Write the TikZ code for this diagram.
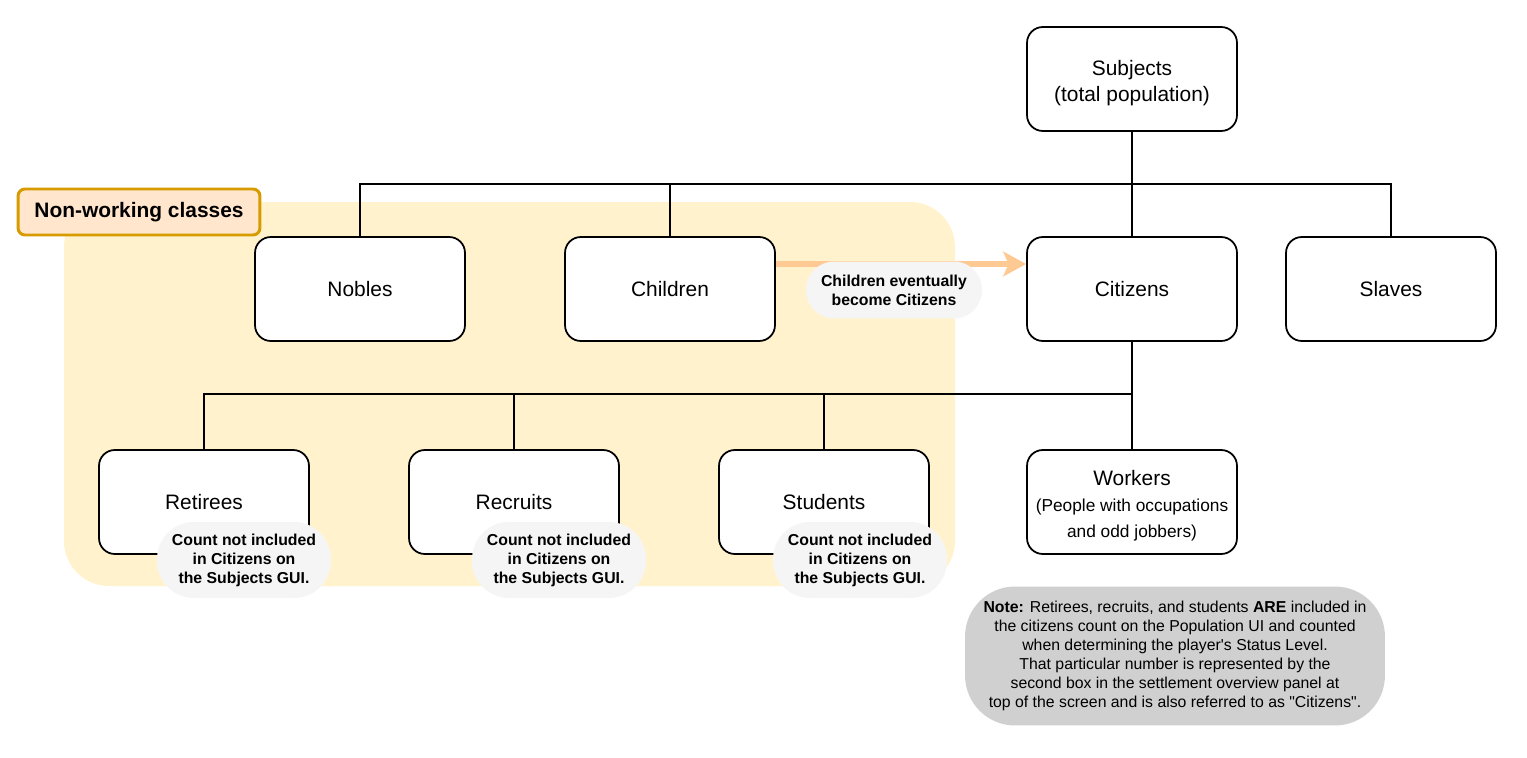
\documentclass[tikz,border=0pt]{standalone}
\usepackage{fontspec}
\setmainfont{Liberation Sans}[Ligatures=TeXOff]
\usetikzlibrary{arrows.meta}

\definecolor{groupfill}{HTML}{FFF2CC}
\definecolor{tagfill}{HTML}{FFE6CC}
\definecolor{tagdraw}{HTML}{D79B00}
\definecolor{becomearrow}{HTML}{FFC994}
\definecolor{bubblefill}{HTML}{F5F5F5}
\definecolor{notefill}{HTML}{D0D0D0}

\newcommand{\jobsize}{\fontsize{9.85}{14.7}\selectfont}

\begin{document}
\begin{tikzpicture}[x=0.02cm,y=-0.02cm,
        box/.style={draw,fill=white,line width=1pt,rounded corners=9pt,
        minimum width=4.2cm,minimum height=2.08cm,align=center,
        font=\fontsize{11.9}{14.7}\selectfont},
        bubble/.style={fill=bubblefill,rounded corners=0.74cm,minimum width=3.48cm,
        minimum height=1.52cm,align=center,inner sep=0pt,
        font=\bfseries\fontsize{9}{10.8}\selectfont},
        link/.style={line width=1pt}]
    \useasboundingbox (0,0) rectangle (1527,757);

    % non-working group
    \fill[groupfill,rounded corners=0.9cm] (64,202) rectangle (955,586);
    \node (tag) [draw=tagdraw,fill=tagfill,line width=1.7pt,rounded corners=4pt,
        minimum width=4.84cm,minimum height=0.92cm,
        font=\bfseries\fontsize{11.9}{14}\selectfont] at (139,212) {Non-working classes};

    \node (subj) [box] at (1132,79) {\rule{0pt}{13pt}Subjects\\(total population)};
    \node (nob) [box] at (360,289) {Nobles};
    \node (chi) [box] at (670,289) {Children};
    \node (cit) [box] at (1132,289) {Citizens};
    \node (sla) [box] at (1391,289) {Slaves};
    \node (ret) [box] at (204,502) {Retirees};
    \node (rec) [box] at (514,502) {Recruits};
    \node (stu) [box] at (824,502) {Students};
    \node (wor) [box] at (1132,502) {\rule{0pt}{13pt}Workers\\
        \jobsize (People with occupations\\\jobsize and odd jobbers)};

    \coordinate (bus1) at (0,184);
    \coordinate (bus2) at (0,394);
    \foreach \n in {nob,chi,cit,sla}{
        \draw[link] (subj.south) -- (subj.south |- bus1) -| (\n.north);
    }
    \foreach \n in {ret,rec,stu,wor}{
        \draw[link] (cit.south) -- (cit.south |- bus2) -| (\n.north);
    }

    \coordinate (from) at (chi.east |- 0,264);
    \coordinate (to) at (cit.west |- 0,264);
    \draw[becomearrow,line width=3.3pt,-{Stealth[length=13pt,width=14pt,inset=3pt]}] (from) -- (to);
    \node (become) [bubble,minimum width=3.52cm,minimum height=1.14cm,rounded corners=0.56cm]
        at (894,290) {Children eventually\\become Citizens};

    \foreach \n/\x in {ret/244,rec/559,stu/860}{
        \node (\n-gui) [bubble] at (\x,560) {Count not included\\in Citizens on\\the Subjects GUI.};
    }

    \node (note) [fill=notefill,rounded corners=1cm,minimum width=8.4cm,minimum height=2.78cm,
        align=center,inner sep=0pt,font=\fontsize{9}{10.8}\selectfont] at (1175,656)
        {\textbf{Note:} Retirees, recruits, and students \textbf{ARE} included in\\
        the citizens count on the Population UI and counted\\
        when determining the player's Status Level.\\
        That particular number is represented by the\\
        second box in the settlement overview panel at\\
        top of the screen and is also referred to as "Citizens".};
\end{tikzpicture}
\end{document}
